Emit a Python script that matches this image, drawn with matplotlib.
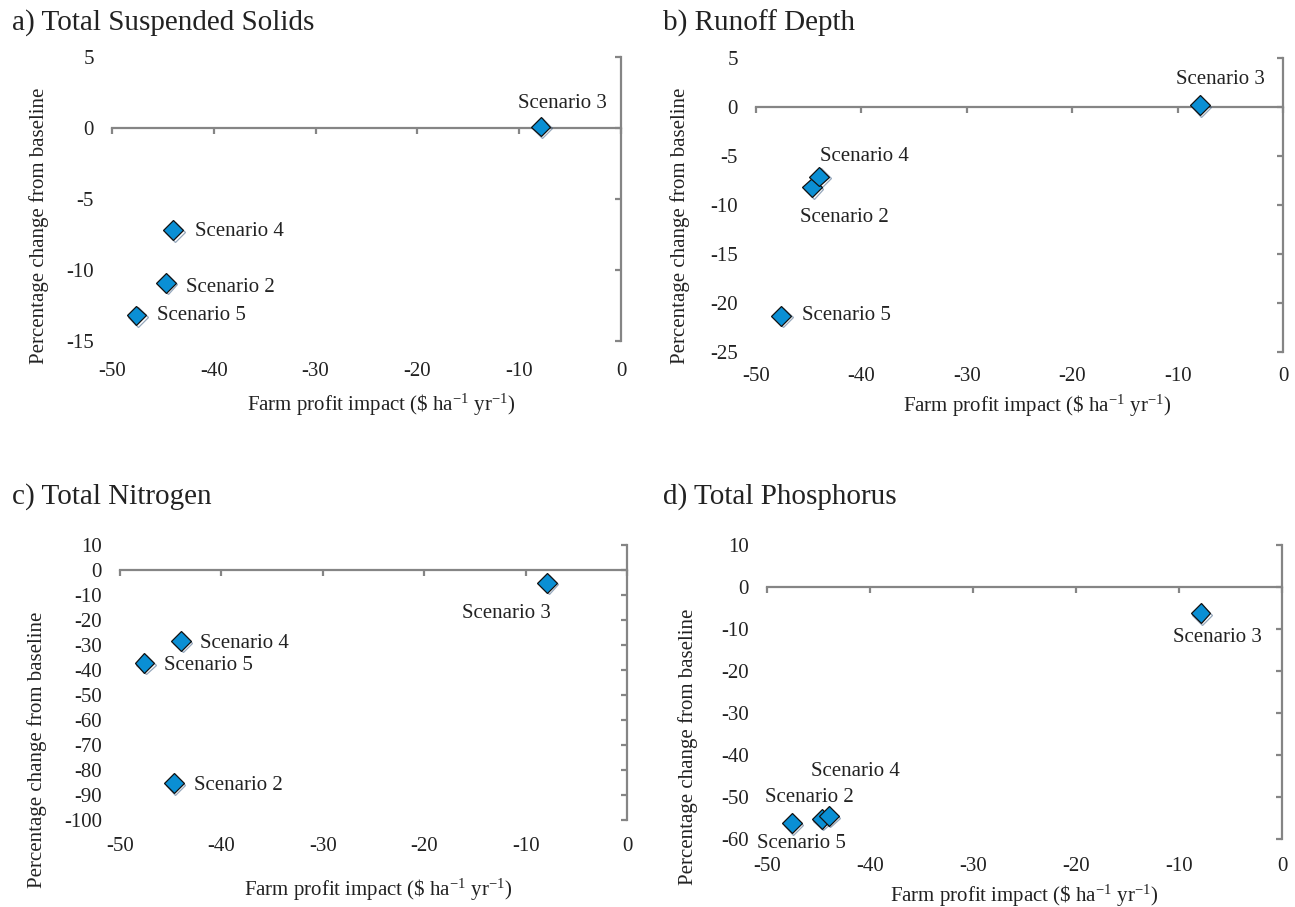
import numpy as np
import matplotlib
matplotlib.use('Agg')
import matplotlib.pyplot as plt
import matplotlib.patheffects as pe

# %%
# data (same scenarios in every panel)
scenarios = ['Scenario 2', 'Scenario 3', 'Scenario 4', 'Scenario 5']
profit = [-44.7, -7.9, -44.0, -47.6]          # $ ha-1 yr-1

tss = [-10.9, 0.1, -7.2, -13.2]               # a) total suspended solids
runoff = [-8.2, 0.2, -7.1, -21.3]             # b) runoff depth
tn = [-85.3, -5.1, -28.4, -37.2]              # c) total nitrogen
tp = [-55.2, -6.2, -54.5, -56.2]              # d) total phosphorus

titles = ['a) Total Suspended Solids', 'b) Runoff Depth',
          'c) Total Nitrogen', 'd) Total Phosphorus']
xticks = [-50, -40, -30, -20, -10, 0]

plt.rcParams['font.family'] = 'serif'
plt.rcParams['font.serif'] = ['Liberation Serif', 'DejaVu Serif']
plt.rcParams['mathtext.fontset'] = 'custom'
plt.rcParams['mathtext.rm'] = 'Liberation Serif'
plt.rcParams['mathtext.it'] = 'Liberation Serif:italic'
plt.rcParams['mathtext.default'] = 'rm'
plt.rcParams['axes.unicode_minus'] = False

W, H = 1295, 907
gray = '#858585'
blue = '#0a8fd4'

# layout per panel, everything in figure pixels
# rect = (x of -50, y of top, x of 0, y of bottom)
panels = [
    dict(y=tss, ylim=(-15, 5), ystep=5, rect=(112, 57, 621, 341), xpad=21,
         title=(12, 23), ylab=(39, 226), xlab=(381, 405),
         lab=[('left', 20, -5), ('center', 22, 23), ('left', 22, -1), ('left', 21, 0)]),
    dict(y=runoff, ylim=(-25, 5), ystep=5, rect=(756, 58, 1283, 352), xpad=15,
         title=(663, 23), ylab=(680, 226), xlab=(1037, 406),
         lab=[('center', 33, -30), ('center', 21, 26), ('center', 45, 20), ('left', 21, 0)]),
    dict(y=tn, ylim=(-100, 10), ystep=10, rect=(120, 545, 627, 820), xpad=17,
         title=(12, 497), ylab=(37, 750), xlab=(378, 890),
         lab=[('left', 20, -2), ('center', -40, -31), ('left', 19, -2), ('left', 20, -2)]),
    dict(y=tp, ylim=(-60, 10), ystep=10, rect=(767, 545, 1282, 839), xpad=18,
         title=(663, 497), ylab=(688, 747), xlab=(1024, 896),
         lab=[('center', -12, 21), ('center', 17, -24), ('center', 27, 44), ('center', 10, -20)]),
]

fig = plt.figure(figsize=(W / 100, H / 100), dpi=100)

for p, title in zip(panels, titles):
    x0, y0, x1, y1 = p['rect']
    rect = [x0 / W, 1 - y1 / H, (x1 - x0) / W, (y1 - y0) / H]

    # axes that only carries the tick labels (Excel puts them low/left)
    ax = fig.add_axes(rect)
    ax.set_xlim(-50, 0)
    ax.set_ylim(*p['ylim'])
    ax.set_xticks(xticks)
    ax.set_yticks(np.arange(p['ylim'][0], p['ylim'][1] + 1, p['ystep']))
    for s in ax.spines.values():
        s.set_visible(False)
    ax.tick_params(axis='both', length=0, labelsize=15, colors='#222222')
    ax.tick_params(axis='x', pad=p['xpad'] / 1.389)
    ax.tick_params(axis='y', pad=18 / 1.389)

    # overlay with the axis lines crossing at zero
    ln = fig.add_axes(rect, sharex=ax, sharey=ax)
    ln.patch.set_visible(False)
    ln.spines['left'].set_visible(False)
    ln.spines['top'].set_visible(False)
    ln.spines['bottom'].set_position(('data', 0))
    ln.spines['bottom'].set_color(gray)
    ln.spines['bottom'].set_linewidth(1.6)
    ln.spines['right'].set_color(gray)
    ln.spines['right'].set_linewidth(1.6)
    ln.xaxis.set_ticks_position('bottom')
    ln.yaxis.set_ticks_position('right')
    ln.tick_params(axis='x', direction='out', length=4.5, width=1.6, color=gray,
                   labelbottom=False, labeltop=False)
    ln.tick_params(axis='y', direction='in', length=4.5, width=1.6, color=gray,
                   labelleft=False, labelright=False)

    ln.plot(profit, p['y'], linestyle='none', marker='D', markersize=10,
            markerfacecolor=blue, markeredgecolor='#111111', markeredgewidth=0.9,
            clip_on=False, zorder=5,
            path_effects=[pe.SimpleLineShadow(offset=(1.2, -1.2), shadow_color='#2a4f78', alpha=0.5),
                          pe.Normal()])

    for name, xv, yv, (ha, dx, dy) in zip(scenarios, profit, p['y'], p['lab']):
        ln.annotate(name, (xv, yv), xytext=(dx, dy), textcoords='offset pixels',
                    ha=ha, va='center', fontsize=15, color='#222222')

    fig.text(p['title'][0] / W, 1 - p['title'][1] / H, title, ha='left', va='center',
             fontsize=21, color='#222222')
    fig.text(p['ylab'][0] / W, 1 - p['ylab'][1] / H, 'Percentage change from baseline',
             rotation=90, ha='center', va='center', fontsize=15, color='#222222')
    fig.text(p['xlab'][0] / W, 1 - p['xlab'][1] / H,
             r'Farm profit impact (\$ ha$^{-1}$ yr$^{-1}$)',
             ha='center', va='center', fontsize=15, color='#222222')

fig.savefig('out.png', dpi=100)
